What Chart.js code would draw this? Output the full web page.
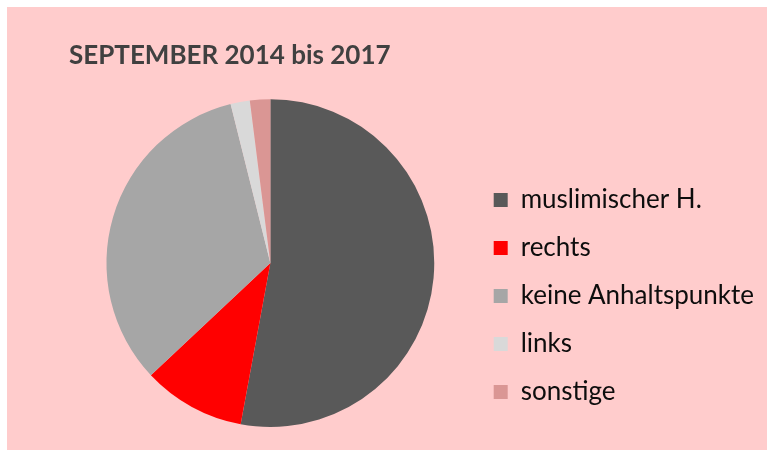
<!DOCTYPE html>
<html>
<head>
<meta charset="utf-8">
<script src="https://cdn.jsdelivr.net/npm/chart.js@4.4.1/dist/chart.umd.min.js"></script>
<style>
    html, body { margin: 0; padding: 0; background: #ffffff; }
    #box {
        position: absolute;
        left: 7px;
        top: 7px;
        width: 760px;
        height: 443px;
        background: #ffcccc;
    }
</style>
</head>
<body>
<div id="box">
    <canvas id="myChart" width="760" height="443"></canvas>
</div>
<script>
    const categories = ["muslimischer H.", "rechts", "keine Anhaltspunkte", "links", "sonstige"];
    const values = [52.9, 10.1, 33.1, 1.9, 2.0];
    const colors = ["#595959", "#ff0000", "#a6a6a6", "#d9d9d9", "#da9694"];

    const ctx = document.getElementById("myChart").getContext("2d");

    new Chart(ctx, {
        type: "pie",
        data: {
            labels: categories,
            datasets: [{
                data: values,
                backgroundColor: colors,
                borderWidth: 0
            }]
        },
        options: {
            responsive: false,
            animation: false,
            layout: {
                padding: { left: 62, right: 3, top: 0, bottom: 23 }
            },
            plugins: {
                title: {
                    display: true,
                    text: "SEPTEMBER 2014 bis 2017",
                    align: "start",
                    color: "#404040",
                    font: { family: "Lato", size: 26, weight: "bold" },
                    padding: { top: 33, bottom: 28 }
                },
                legend: {
                    position: "right",
                    align: "end",
                    fullSize: false,
                    labels: {
                        boxWidth: 14,
                        boxHeight: 14,
                        padding: 22,
                        color: "#0d0d0d",
                        font: { family: "Lato", size: 26 }
                    }
                },
                tooltip: { enabled: false }
            }
        }
    });
</script>
</body>
</html>
